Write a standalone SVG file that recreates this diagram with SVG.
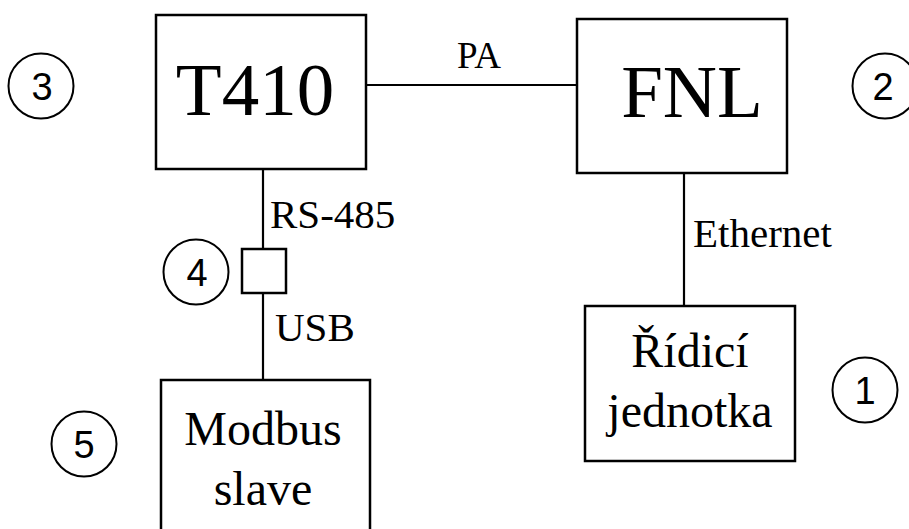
<svg xmlns="http://www.w3.org/2000/svg" width="909" height="529" viewBox="0 0 909 529">
<style>
.box{fill:#fff;stroke:#000;stroke-width:2.5}
.ln{stroke:#000;stroke-width:2.2;fill:none}
.cir{fill:none;stroke:#000;stroke-width:2}
.big{font-family:"Liberation Serif","Times New Roman",serif;font-size:75px;fill:#000;text-anchor:middle}
.mid{font-family:"Liberation Serif","Times New Roman",serif;font-size:48px;fill:#000;text-anchor:middle}
.lbl{font-family:"Liberation Serif","Times New Roman",serif;font-size:41px;fill:#000}
.num{font-family:"Liberation Sans",Arial,sans-serif;font-size:38px;fill:#000;text-anchor:middle}
</style>
<rect width="909" height="529" fill="#fff"/>
<g id="connectors">
<line class="ln" x1="366" y1="85" x2="577" y2="85"/>
<line class="ln" x1="684" y1="173" x2="684" y2="306"/>
<line class="ln" x1="263" y1="169" x2="263" y2="249"/>
<line class="ln" x1="263" y1="293" x2="263" y2="380"/>
<text class="lbl" x="479" y="68" text-anchor="middle" style="font-size:37px">PA</text>
<text class="lbl" x="270" y="228">RS-485</text>
<text class="lbl" x="275" y="341">USB</text>
<text class="lbl" x="693" y="247">Ethernet</text>
</g>
<g id="t410">
<rect class="box" x="156" y="15" width="210" height="154"/>
<text class="big" x="255" y="115">T410</text>
</g>
<g id="fnl">
<rect class="box" x="577" y="19" width="210" height="154"/>
<text class="big" x="692" y="117">FNL</text>
</g>
<g id="converter">
<rect class="box" x="242" y="249" width="44" height="44"/>
</g>
<g id="modbus">
<rect class="box" x="161" y="380" width="209" height="160"/>
<text class="mid" x="263" y="445">Modbus</text>
<text class="mid" x="263" y="505">slave</text>
</g>
<g id="ridici">
<rect class="box" x="585" y="306" width="210" height="155"/>
<text class="mid" x="690" y="367">Řídicí</text>
<text class="mid" x="690" y="427">jednotka</text>
</g>
<g id="badge1"><circle class="cir" cx="865" cy="390" r="32.5"/><text class="num" x="865" y="403.5">1</text></g>
<g id="badge2"><circle class="cir" cx="885" cy="86" r="32.5"/><text class="num" x="883" y="99.5">2</text></g>
<g id="badge3"><circle class="cir" cx="41" cy="86" r="32.5"/><text class="num" x="42" y="99.5">3</text></g>
<g id="badge4"><circle class="cir" cx="196" cy="272" r="32.5"/><text class="num" x="197" y="285.5">4</text></g>
<g id="badge5"><circle class="cir" cx="84" cy="444" r="32.5"/><text class="num" x="84" y="457.5">5</text></g>
</svg>
